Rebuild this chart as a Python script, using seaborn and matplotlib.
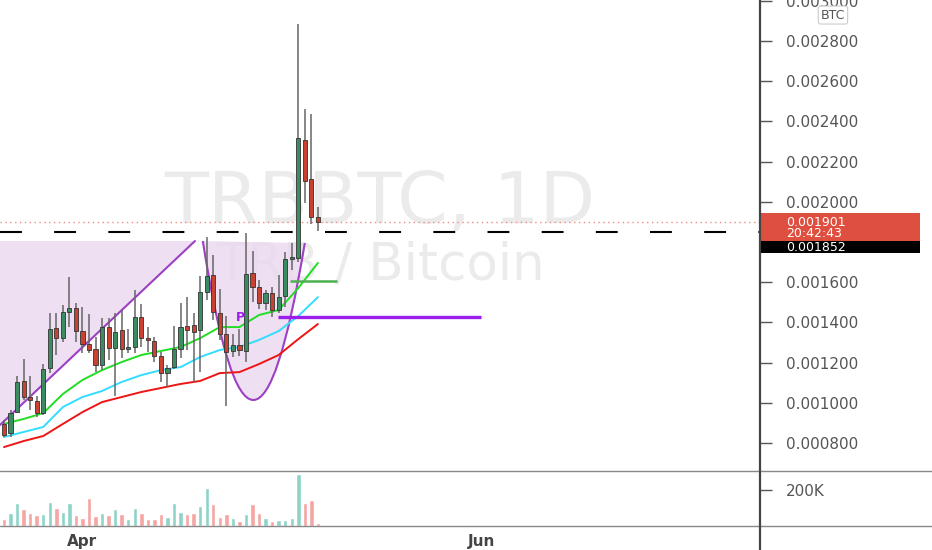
import matplotlib
matplotlib.use("Agg")
import matplotlib.pyplot as plt
import matplotlib.dates as mdates
from matplotlib.path import Path
from matplotlib.patches import PathPatch, Polygon, Rectangle
from matplotlib.lines import Line2D
from matplotlib.transforms import blended_transform_factory
import pandas as pd
import seaborn as sns

# daily candles TRB/BTC, starting 20 Mar
start = "2020-03-20"
opens = [0.000895, 0.000850, 0.000954, 0.001109, 0.001029, 0.001009, 0.000949, 0.001173, 0.001372, 0.001322,
         0.001452, 0.001472, 0.001357, 0.001293, 0.001268, 0.001188, 0.001377, 0.001273, 0.001362, 0.001268,
         0.001278, 0.001427, 0.001322, 0.001308, 0.001233, 0.001148, 0.001178, 0.001268, 0.001382, 0.001387,
         0.001362, 0.001551, 0.001636, 0.001447, 0.001342, 0.001258, 0.001288, 0.001258, 0.001646, 0.001576,
         0.001497, 0.001546, 0.001462, 0.001531, 0.001716, 0.001720, 0.002308, 0.002114, 0.001924]
highs = [0.000915, 0.000964, 0.001133, 0.001218, 0.001133, 0.001034, 0.001193, 0.001447, 0.001447, 0.001487,
         0.001626, 0.001497, 0.001477, 0.001442, 0.001327, 0.001422, 0.001422, 0.001447, 0.001462, 0.001367,
         0.001561, 0.001492, 0.001377, 0.001327, 0.001253, 0.001188, 0.001382, 0.001497, 0.001526, 0.001447,
         0.001631, 0.001825, 0.001735, 0.001566, 0.001432, 0.001342, 0.001367, 0.001845, 0.001755, 0.001611,
         0.001561, 0.001576, 0.001636, 0.001750, 0.001795, 0.002885, 0.002462, 0.002437, 0.001974]
lows = [0.000830, 0.000830, 0.000949, 0.001014, 0.000964, 0.000929, 0.000939, 0.001148, 0.001238, 0.001303,
        0.001377, 0.001303, 0.001248, 0.001248, 0.001153, 0.001163, 0.001213, 0.001034, 0.001223, 0.001248,
        0.001248, 0.001278, 0.001253, 0.001203, 0.001104, 0.001079, 0.001168, 0.001223, 0.001263, 0.001104,
        0.001153, 0.001512, 0.001412, 0.001313, 0.000984, 0.001228, 0.001233, 0.001203, 0.001502, 0.001467,
        0.001462, 0.001427, 0.001447, 0.001477, 0.001661, 0.001700, 0.001994, 0.001890, 0.001855]
closes = [0.000840, 0.000949, 0.001104, 0.001029, 0.001014, 0.000949, 0.001168, 0.001367, 0.001322, 0.001452,
          0.001472, 0.001357, 0.001293, 0.001263, 0.001188, 0.001377, 0.001273, 0.001352, 0.001268, 0.001278,
          0.001427, 0.001322, 0.001313, 0.001233, 0.001148, 0.001173, 0.001268, 0.001377, 0.001362, 0.001352,
          0.001551, 0.001631, 0.001452, 0.001342, 0.001253, 0.001288, 0.001263, 0.001641, 0.001576, 0.001497,
          0.001546, 0.001462, 0.001526, 0.001716, 0.001725, 0.002317, 0.002104, 0.001924, 0.001901]
volumes = [37, 74, 130, 93, 70, 61, 67, 135, 98, 76,
           130, 61, 46, 154, 56, 74, 59, 94, 67, 37,
           98, 70, 41, 41, 67, 48, 130, 76, 67, 74,
           113, 209, 122, 48, 67, 43, 26, 67, 122, 74,
           43, 30, 35, 32, 44, 289, 126, 144, 19]  # thousands

# moving averages read every 3rd day
ma_days = [0, 3, 6, 9, 12, 15, 18, 21, 24, 27, 30, 33, 36, 39, 42, 45, 48]
ma_fast = [0.000895, 0.000920, 0.000949, 0.001044, 0.001114, 0.001163, 0.001203, 0.001238, 0.001258,
           0.001278, 0.001322, 0.001377, 0.001377, 0.001437, 0.001462, 0.001571, 0.001696]
ma_mid = [0.000830, 0.000855, 0.000880, 0.000979, 0.001029, 0.001059, 0.001104, 0.001138, 0.001163,
          0.001178, 0.001228, 0.001263, 0.001278, 0.001313, 0.001357, 0.001432, 0.001526]
ma_slow = [0.000780, 0.000810, 0.000835, 0.000895, 0.000954, 0.001004, 0.001029, 0.001054, 0.001074,
           0.001094, 0.001109, 0.001148, 0.001153, 0.001193, 0.001238, 0.001317, 0.001392]

# drawings (day offset, price)
wedge_pts = [(-0.6, 0.000890), (29.2, 0.001805), (-0.6, 0.001805)]
cup_pts = [(30.4, 0.001805), (38.1, 0.001014), (46.0, 0.001795)]
pivot_line = (41.9, 72.9, 0.001427)
green_line = (43.7, 50.9, 0.001606)
support = 0.001852

price_ticks = [0.0008, 0.0010, 0.0012, 0.0014, 0.0016, 0.0020, 0.0022, 0.0024, 0.0026, 0.0028, 0.0030]

sns.set_style("white")
plt.rcParams["font.family"] = ["DejaVu Sans"]

UP, DOWN = "#3b8c60", "#c9412f"
VUP, VDOWN = "#8ed3c8", "#f5a5a2"
PURPLE = "#9c40c4"
PINK = "#ead8ef"

dates = pd.date_range(start, periods=len(closes), freq="D")
x0 = mdates.date2num(dates[0])
xs = mdates.date2num(dates)
df = pd.DataFrame({"x": xs, "open": opens, "high": highs, "low": lows, "close": closes, "vol": volumes})
df["up"] = df["close"] >= df["open"]

fig = plt.figure(figsize=(9.32, 5.5), dpi=100)
ax = fig.add_axes([0, 80 / 550, 760 / 932, 470 / 550])
axv = fig.add_axes([0, 24 / 550, 760 / 932, 55 / 550], sharex=ax)

ylo, yhi = 0.000666, 0.003004
ppx = (yhi - ylo) / 470
ax.set_ylim(ylo, yhi)
ax.set_xlim(x0 - 0.61, x0 + 115.6)

# watermark
ax.text(0.5, 0.568, "TRBBTC, 1D", transform=ax.transAxes, ha="center", va="center",
        fontsize=52, color="#ebebeb", zorder=0)
ax.text(0.5, 0.436, "TRB / Bitcoin", transform=ax.transAxes, ha="center", va="center",
        fontsize=37, color="#ebebeb", zorder=0)

# drawings
tri = Polygon([(x0 + a, b) for a, b in wedge_pts], closed=True, facecolor=PINK, edgecolor="none",
              alpha=0.8, zorder=1)
ax.add_patch(tri)
ax.plot([x0 + wedge_pts[0][0], x0 + wedge_pts[1][0]], [wedge_pts[0][1], wedge_pts[1][1]],
        color=PURPLE, lw=1.5, zorder=2)
(p0x, p0y), (vx, vy), (p2x, p2y) = cup_pts
ctrl = (x0 + 2 * vx - (p0x + p2x) / 2, 2 * vy - (p0y + p2y) / 2)
verts = [(x0 + p0x, p0y), ctrl, (x0 + p2x, p2y)]
cup_fill = PathPatch(Path(verts + [verts[0]], [Path.MOVETO, Path.CURVE3, Path.CURVE3, Path.CLOSEPOLY]),
                     facecolor=PINK, edgecolor="none", alpha=0.8, zorder=1)
cup_edge = PathPatch(Path(verts, [Path.MOVETO, Path.CURVE3, Path.CURVE3]),
                     facecolor="none", edgecolor=PURPLE, lw=1.5, zorder=2)
ax.add_patch(cup_fill)
ax.add_patch(cup_edge)

# moving averages
ma = pd.DataFrame({"x": [x0 + d for d in ma_days], "fast": ma_fast, "mid": ma_mid, "slow": ma_slow})
sns.lineplot(data=ma, x="x", y="fast", ax=ax, color="#22dd22", lw=1.4, zorder=3)
sns.lineplot(data=ma, x="x", y="mid", ax=ax, color="#33ddff", lw=1.4, zorder=3)
sns.lineplot(data=ma, x="x", y="slow", ax=ax, color="#ee1515", lw=1.4, zorder=3)

# candles
ax.vlines(df["x"], df["low"], df["high"], color="#666666", lw=1.1, zorder=4)
body = (df["close"] - df["open"]).abs().clip(lower=ppx)
ax.bar(df["x"], body, bottom=df[["open", "close"]].min(axis=1), width=0.64,
       color=[UP if u else DOWN for u in df["up"]], edgecolor="#333333", linewidth=0.6, zorder=5)

# levels
ax.axhline(closes[-1], color="#f08a80", lw=1, ls=(0, (1, 2.5)), zorder=2)
ax.axhline(support, color="black", lw=1.5, ls=(0, (10.5, 15.5)), zorder=2)
ax.hlines(pivot_line[2], x0 + pivot_line[0], x0 + pivot_line[1], color="#9b1fe8", lw=2.4, zorder=3)
ax.hlines(green_line[2], x0 + green_line[0], x0 + green_line[1], color="#4caf50", lw=1.8, zorder=3)
ax.text(x0 + 36.1, pivot_line[2], "P", color="#9b1fe8", fontsize=9, fontweight="bold",
        ha="center", va="center", zorder=6)

# price axis
ax.yaxis.tick_right()
ax.set_yticks(price_ticks)
ax.set_yticklabels([f"{t:.6f}" for t in price_ticks])
ax.tick_params(axis="y", length=8.5, width=1, color="#555555", pad=10, labelsize=11, labelcolor="#555555")
ax.tick_params(axis="x", bottom=False, labelbottom=False)
ax.set_xlabel("")
ax.set_ylabel("")
for s in ax.spines.values():
    s.set_visible(False)

tr = blended_transform_factory(ax.transAxes, ax.transData)
last = closes[-1]
ax.add_patch(Rectangle((1.0, last - 19.5 * ppx), 0.21, 28 * ppx, transform=tr, facecolor="#df4f3f",
                       edgecolor="none", clip_on=False, zorder=10))
ax.add_patch(Rectangle((1.0, last - 31.5 * ppx), 0.21, 12 * ppx, transform=tr, facecolor="black",
                       edgecolor="none", clip_on=False, zorder=10))
ax.text(1.034, last - 0.5 * ppx, f"{last:.6f}", transform=tr, color="white", fontsize=9,
        va="center", ha="left", zorder=11, clip_on=False)
ax.text(1.034, last - 12 * ppx, "20:42:43", transform=tr, color="white", fontsize=9,
        va="center", ha="left", zorder=11, clip_on=False)
ax.text(1.034, last - 25.5 * ppx, f"{support:.6f}", transform=tr, color="white", fontsize=9,
        va="center", ha="left", zorder=11, clip_on=False)
ax.text(1.096, 0.968, "BTC", transform=ax.transAxes, ha="center", va="center", fontsize=9,
        color="#555555", zorder=11, clip_on=False,
        bbox=dict(boxstyle="round,pad=0.2", fc="white", ec="#cccccc", lw=0.8))

# volume
axv.bar(df["x"], df["vol"] * 1000, width=0.68, color=[VUP if u else VDOWN for u in df["up"]], zorder=3)
axv.set_ylim(0, 305000)
axv.yaxis.tick_right()
axv.set_yticks([200000])
axv.set_yticklabels(["200K"])
axv.tick_params(axis="y", length=8.5, width=1, color="#555555", pad=10, labelsize=11, labelcolor="#555555")
apr, jun = mdates.date2num(pd.Timestamp("2020-04-01")), mdates.date2num(pd.Timestamp("2020-06-01"))
axv.set_xticks([apr, jun])
axv.set_xticklabels(["Apr", "Jun"])
axv.tick_params(axis="x", length=4, width=1, color="#555555", pad=2, labelsize=11, labelcolor="#444444")
for lab in axv.get_xticklabels():
    lab.set_fontweight("bold")
axv.set_xlabel("")
axv.set_ylabel("")
for s in axv.spines.values():
    s.set_visible(False)

# panel separators
fig.add_artist(Line2D([0, 1], [1 - 471 / 550] * 2, color="#888888", lw=1))
fig.add_artist(Line2D([0, 1], [1 - 526 / 550] * 2, color="#888888", lw=1))
fig.add_artist(Line2D([760 / 932] * 2, [0, 1], color="#444444", lw=1.6))

fig.savefig("out.png", dpi=100, facecolor="white")
